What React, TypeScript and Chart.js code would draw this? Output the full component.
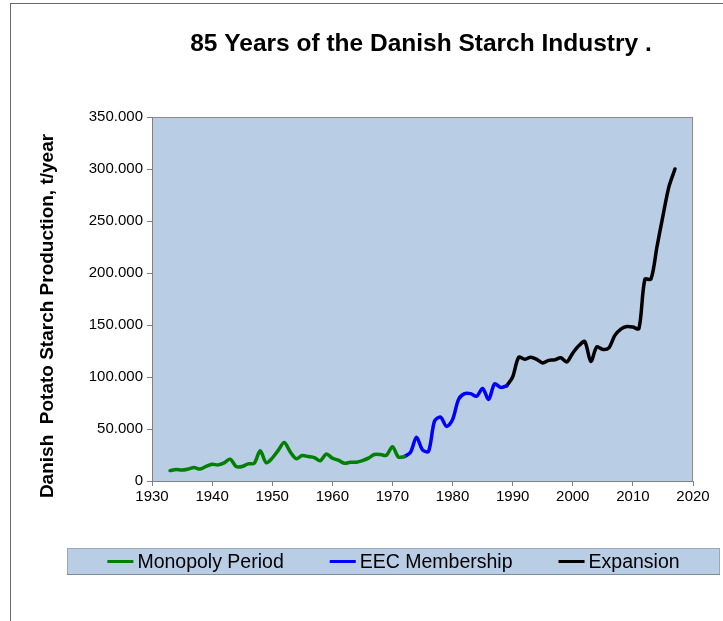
import { useEffect, useRef } from 'react';
import { Chart, registerables } from 'chart.js';

Chart.register(...registerables);

const TITLE = '85 Years of the Danish Starch Industry .';
const Y_TITLE = 'Danish  Potato Starch Production, t/year';

const X_MIN = 1930;
const X_MAX = 2020;
const X_STEP = 10;
const Y_MIN = 0;
const Y_MAX = 350000;
const Y_STEP = 50000;

const monopolyYears = [
  1933, 1934, 1935, 1936, 1937, 1938, 1939, 1940, 1941, 1942,
  1943, 1944, 1945, 1946, 1947, 1948, 1949, 1950, 1951, 1952,
  1953, 1954, 1955, 1956, 1957, 1958, 1959, 1960, 1961, 1962,
  1963, 1964, 1965, 1966, 1967, 1968, 1969, 1970, 1971, 1972,
];
const monopolyValues = [
  10000, 11000, 10500, 11500, 13000, 11500, 14000, 16000, 15500, 17500,
  21000, 14000, 14000, 16500, 17000, 29000, 17500, 22000, 29500, 37000,
  28000, 21500, 24500, 23500, 22500, 19500, 26000, 22000, 20000, 17000,
  18000, 18000, 19500, 22000, 25500, 25500, 24700, 33000, 23000, 23500,
];

const eecYears = [
  1972, 1973, 1974, 1975, 1976, 1977, 1978, 1979, 1980, 1981,
  1982, 1983, 1984, 1985, 1986, 1987, 1988, 1989,
];
const eecValues = [
  23500, 27500, 42000, 30000, 28500, 57500, 61500, 52500, 59000, 78500,
  84000, 84000, 81500, 89000, 78500, 93500, 90000, 91500,
];

const expansionYears = [
  1989, 1990, 1991, 1992, 1993, 1994, 1995, 1996, 1997, 1998,
  1999, 2000, 2001, 2002, 2003, 2004, 2005, 2006, 2007, 2008,
  2009, 2010, 2011, 2012, 2013, 2014, 2015, 2016, 2017,
];
const expansionValues = [
  91500, 100000, 119000, 117000, 119000, 117000, 113500, 116000, 116500, 118500,
  114500, 123000, 130000, 134000, 115000, 129000, 126500, 128000, 140000, 146000,
  148500, 148000, 146500, 194000, 194000, 225000, 255000, 283000, 300000,
];

const seriesLabels = ['Monopoly Period', 'EEC Membership', 'Expansion'];
const seriesColors = ['#008000', '#0000FF', '#000000'];

const toPoints = (xs: number[], ys: number[]) => xs.map((x, i) => ({ x, y: ys[i] }));

const FONT = '"Liberation Sans", Arial, sans-serif';

const decorPlugin = {
  id: 'decor',
  beforeDraw(chart: any) {
    const { ctx, chartArea: a } = chart;
    ctx.save();
    ctx.strokeStyle = '#6a6a6a';
    ctx.lineWidth = 1;
    ctx.strokeRect(10.5, 3.5, 730, 640);
    ctx.fillStyle = '#B9CDE5';
    ctx.fillRect(a.left, a.top, a.right - a.left, a.bottom - a.top);
    ctx.strokeStyle = '#8a8a8a';
    ctx.strokeRect(a.left + 0.5, a.top + 0.5, a.right - a.left - 1, a.bottom - a.top);
    ctx.restore();
  },
  afterDraw(chart: any) {
    const { ctx } = chart;
    ctx.save();
    ctx.fillStyle = '#000';
    ctx.font = `bold 24.5px ${FONT}`;
    ctx.textAlign = 'center';
    ctx.textBaseline = 'middle';
    ctx.fillText(TITLE, 421, 44);

    ctx.save();
    ctx.translate(48, 316);
    ctx.rotate(-Math.PI / 2);
    ctx.font = `bold 19px ${FONT}`;
    ctx.fillText(Y_TITLE, 0, 0);
    ctx.restore();

    const bx = 67, by = 548, bw = 653, bh = 27;
    ctx.fillStyle = '#B9CDE5';
    ctx.fillRect(bx, by, bw, bh);
    ctx.strokeStyle = '#9aa7b8';
    ctx.lineWidth = 1;
    ctx.strokeRect(bx + 0.5, by + 0.5, bw - 1, bh - 1);
    ctx.strokeStyle = '#7f8a99';
    ctx.beginPath();
    ctx.moveTo(bx, by + bh - 0.5);
    ctx.lineTo(bx + bw, by + bh - 0.5);
    ctx.stroke();

    ctx.font = `19.5px ${FONT}`;
    ctx.textAlign = 'left';
    ctx.textBaseline = 'middle';
    const lineLen = 26, lineGap = 4, itemGap = 46;
    const datasets = chart.data.datasets;
    const widths = datasets.map((d: any) => lineLen + lineGap + ctx.measureText(d.label).width);
    const total = widths.reduce((s: number, w: number) => s + w, 0) + itemGap * (datasets.length - 1);
    let x = bx + (bw - total) / 2;
    const cy = by + bh / 2;
    datasets.forEach((d: any, i: number) => {
      ctx.strokeStyle = d.borderColor;
      ctx.lineWidth = 3;
      ctx.beginPath();
      ctx.moveTo(x, cy);
      ctx.lineTo(x + lineLen, cy);
      ctx.stroke();
      ctx.fillStyle = '#000';
      ctx.fillText(d.label, x + lineLen + lineGap, cy + 1);
      x += widths[i] + itemGap;
    });
    ctx.restore();
  },
};

export default function App() {
  const ref = useRef<HTMLCanvasElement | null>(null);

  useEffect(() => {
    if (!ref.current) return;
    const series = [
      toPoints(monopolyYears, monopolyValues),
      toPoints(eecYears, eecValues),
      toPoints(expansionYears, expansionValues),
    ];
    const chart = new Chart(ref.current, {
      type: 'line',
      data: {
        datasets: series.map((data, i) => ({
          label: seriesLabels[i],
          data,
          borderColor: seriesColors[i],
          backgroundColor: seriesColors[i],
          borderWidth: 3.5,
          pointRadius: 0,
          tension: 0.3,
          fill: false,
          borderCapStyle: 'round' as const,
          borderJoinStyle: 'round' as const,
        })),
      },
      options: {
        animation: false,
        responsive: false,
        devicePixelRatio: 1,
        layout: { padding: { left: 0, right: 30, top: 117, bottom: 110 } },
        plugins: {
          legend: { display: false },
          tooltip: { enabled: false },
          title: { display: false },
        },
        scales: {
          x: {
            type: 'linear',
            min: X_MIN,
            max: X_MAX,
            afterFit: (s: any) => { s.height = 30; },
            ticks: {
              stepSize: X_STEP,
              color: '#000',
              font: { family: FONT, size: 15 },
              padding: 2,
              maxRotation: 0,
              callback: (v: any) => String(v),
            },
            grid: {
              drawOnChartArea: false,
              drawTicks: true,
              tickLength: 5,
              color: '#7f7f7f',
            },
            border: { display: true, color: '#7f7f7f', width: 1 },
          },
          y: {
            type: 'linear',
            min: Y_MIN,
            max: Y_MAX,
            afterFit: (s: any) => { s.width = 152; },
            ticks: {
              stepSize: Y_STEP,
              color: '#000',
              font: { family: FONT, size: 15 },
              padding: 4,
              callback: (v: any) => (v === 0 ? '0' : `${Math.round(v / 1000)}.000`),
            },
            grid: {
              drawOnChartArea: false,
              drawTicks: true,
              tickLength: 5,
              color: '#7f7f7f',
            },
            border: { display: true, color: '#7f7f7f', width: 1 },
          },
        },
      },
      plugins: [decorPlugin],
    });
    return () => chart.destroy();
  }, []);

  return (
    <div style={{ position: 'absolute', left: 0, top: 0, width: 723, height: 621, background: '#fff' }}>
      <canvas ref={ref} width={723} height={621} style={{ display: 'block' }} />
    </div>
  );
}
